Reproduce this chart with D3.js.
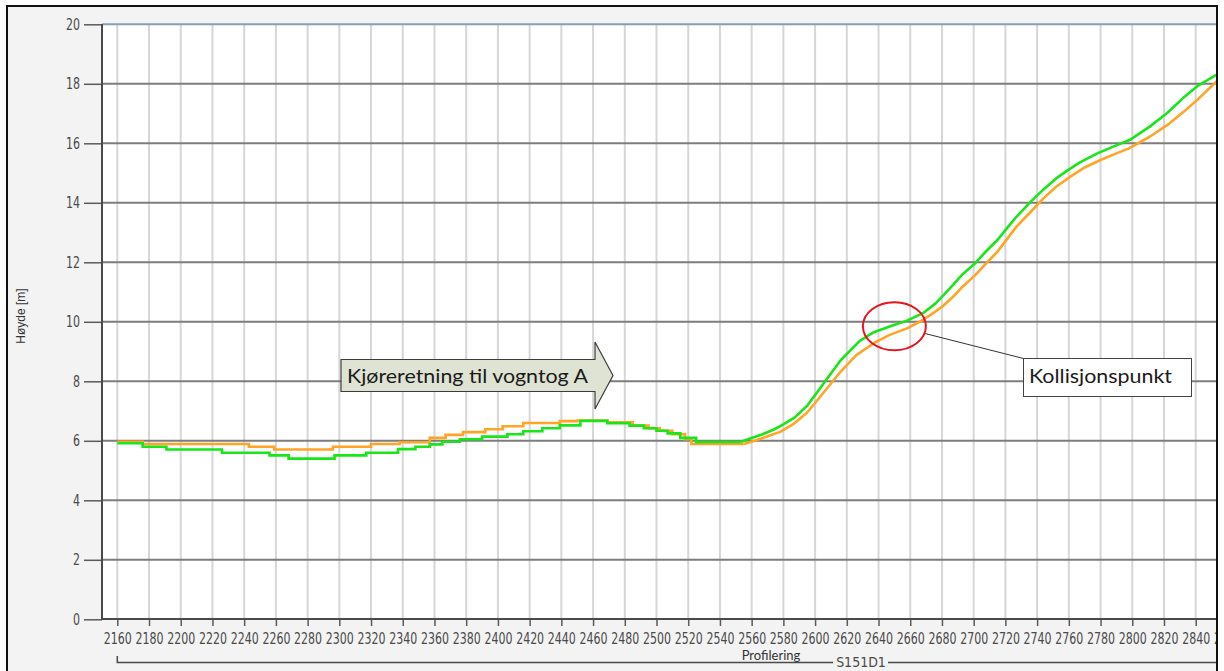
<!DOCTYPE html>
<html>
<head>
<meta charset="utf-8">
<script src="https://cdn.jsdelivr.net/npm/d3@7"></script>
<style>
  html, body { margin: 0; padding: 0; background: #fff; }
  svg { display: block; }
</style>
</head>
<body>
<svg id="chart" width="1224" height="671"></svg>
<script>
// ---- data ----
const xTicks = d3.range(2160, 2861, 20);
const yTicks = [0, 2, 4, 6, 8, 10, 12, 14, 16, 18, 20];

// stepped part (station, height)
const greenSteps = [
  [2160, 5.92], [2176, 5.80], [2191, 5.71], [2226, 5.60], [2256, 5.51], [2268, 5.40],
  [2297, 5.51], [2317, 5.60], [2337, 5.72], [2348, 5.80], [2357, 5.88], [2365, 5.97],
  [2376, 6.05], [2390, 6.14], [2406, 6.22], [2416, 6.32], [2428, 6.42], [2439, 6.52],
  [2452, 6.67], [2469, 6.59], [2483, 6.51], [2492, 6.42], [2500, 6.34], [2507, 6.25],
  [2515, 6.10], [2525, 5.96], [2553, 5.96]
];
const orangeSteps = [
  [2160, 5.97], [2176, 5.89], [2243, 5.80], [2259, 5.71], [2296, 5.80], [2320, 5.89],
  [2338, 5.95], [2357, 6.10], [2367, 6.20], [2378, 6.29], [2392, 6.39], [2403, 6.49],
  [2416, 6.60], [2439, 6.66], [2450, 6.68], [2469, 6.62], [2485, 6.51], [2495, 6.42],
  [2502, 6.34], [2510, 6.22], [2518, 6.05], [2522, 5.89], [2555, 5.89]
];
// climbing part
const greenClimb = [
  [2553, 5.96], [2559, 6.08], [2566, 6.20], [2574, 6.38], [2580, 6.55], [2587, 6.78],
  [2595, 7.18], [2605, 7.90], [2616, 8.70], [2628, 9.35], [2637, 9.65], [2647, 9.84],
  [2658, 10.04], [2668, 10.29], [2676, 10.62], [2681, 10.90], [2687, 11.24], [2693, 11.60],
  [2701, 11.97], [2708, 12.38], [2715, 12.75], [2721, 13.15], [2727, 13.53], [2736, 14.04],
  [2744, 14.45], [2752, 14.82], [2759, 15.08], [2767, 15.36], [2778, 15.66], [2788, 15.89],
  [2799, 16.13], [2811, 16.56], [2822, 17.02], [2832, 17.52], [2841, 17.92], [2853, 18.30],
  [2858, 18.45]
];
const orangeClimb = [
  [2555, 5.89], [2562, 6.00], [2570, 6.15], [2578, 6.30], [2586, 6.55], [2595, 6.95],
  [2605, 7.60], [2616, 8.32], [2626, 8.88], [2637, 9.28], [2647, 9.56], [2658, 9.78],
  [2668, 10.06], [2676, 10.35], [2681, 10.55], [2687, 10.84], [2693, 11.18], [2701, 11.57],
  [2708, 11.97], [2715, 12.36], [2721, 12.78], [2727, 13.20], [2736, 13.70], [2744, 14.15],
  [2752, 14.54], [2761, 14.88], [2769, 15.16], [2780, 15.44], [2790, 15.66], [2798, 15.83],
  [2811, 16.22], [2822, 16.61], [2832, 17.04], [2841, 17.46], [2853, 18.07], [2858, 18.22]
];

const collisionPoint = [2650, 9.85];

// ---- layout ----
const frame = {left: 7, top: 6, right: 1217, bottom: 680};
const plot = {left: 102, top: 24, right: 1216, bottom: 619};
const numFont = '"Liberation Sans Narrow", "DejaVu Sans Condensed", "Arial Narrow", sans-serif';
const textFont = 'Lato, "Open Sans", Calibri, sans-serif';

const svg = d3.select("#chart");

const x = d3.scaleLinear().domain([2160, 2840]).range([117.3, 1195.7]);
const y = d3.scaleLinear().domain([0, 20]).range([619.3, 24.3]);

const defs = svg.append("defs");
defs.append("clipPath").attr("id", "frameClip")
  .append("rect")
  .attr("x", frame.left).attr("y", frame.top)
  .attr("width", frame.right - frame.left).attr("height", frame.bottom - frame.top);
defs.append("clipPath").attr("id", "plotClip")
  .append("rect")
  .attr("x", plot.left).attr("y", plot.top - 2)
  .attr("width", plot.right - plot.left).attr("height", plot.bottom - plot.top + 2);

// outer panel
svg.append("rect")
  .attr("x", frame.left).attr("y", frame.top)
  .attr("width", frame.right - frame.left).attr("height", frame.bottom - frame.top)
  .attr("fill", "#f3f3f3");

const inner = svg.append("g").attr("clip-path", "url(#frameClip)");

inner.append("rect")
  .attr("x", plot.left).attr("y", plot.top)
  .attr("width", plot.right - plot.left).attr("height", plot.bottom - plot.top)
  .attr("fill", "#fff");

// vertical grid
inner.append("g").selectAll("line").data(xTicks).join("line")
  .attr("x1", d => x(d)).attr("x2", d => x(d))
  .attr("y1", plot.top).attr("y2", plot.bottom)
  .attr("stroke", "#d6d6d6").attr("stroke-width", 2);

// horizontal grid
inner.append("g").selectAll("line").data(yTicks.filter(d => d > 0 && d < 20)).join("line")
  .attr("x1", plot.left).attr("x2", plot.right + 10)
  .attr("y1", d => y(d)).attr("y2", d => y(d))
  .attr("stroke", "#7d7d7d").attr("stroke-width", 2);

// top edge
inner.append("line")
  .attr("x1", plot.left).attr("x2", plot.right + 10)
  .attr("y1", y(20)).attr("y2", y(20))
  .attr("stroke", "#8b9bb8").attr("stroke-width", 2);

// axes
const yAxis = inner.append("g")
  .attr("transform", `translate(${plot.left},0)`)
  .call(d3.axisLeft(y).tickValues(yTicks).tickSize(18).tickPadding(4).tickSizeOuter(0));
const xAxis = inner.append("g")
  .attr("transform", `translate(0,${plot.bottom})`)
  .call(d3.axisBottom(x).tickValues(xTicks).tickFormat(d3.format("d"))
    .tickSize(7).tickPadding(4).tickSizeOuter(0));

[yAxis, xAxis].forEach(a => {
  a.select(".domain").remove();
  a.selectAll("line").attr("stroke", "#5a5a5a").attr("stroke-width", 1.5);
  a.selectAll("text")
    .style("font-family", numFont)
    .style("font-size", "15px")
    .attr("fill", "#4a4a4a")
    .attr("textLength", function() { return this.textContent.length * 7; })
    .attr("lengthAdjust", "spacingAndGlyphs");
});
xAxis.selectAll("text").attr("dy", "0.9em");

// axis lines
inner.append("line")
  .attr("x1", plot.left).attr("x2", plot.left)
  .attr("y1", plot.top).attr("y2", plot.bottom + 1)
  .attr("stroke", "#4a4a4a").attr("stroke-width", 2);
inner.append("line")
  .attr("x1", plot.left).attr("x2", plot.right + 10)
  .attr("y1", plot.bottom).attr("y2", plot.bottom)
  .attr("stroke", "#4a4a4a").attr("stroke-width", 2);

// y title
inner.append("text")
  .attr("transform", `translate(25,316) rotate(-90)`)
  .attr("text-anchor", "middle")
  .style("font-family", '"Liberation Sans", Arial, sans-serif')
  .style("font-size", "12px")
  .attr("fill", "#333")
  .text("Høyde [m]");

// bottom bracket
inner.append("path")
  .attr("d", `M${x(2160)},656 V662.5 H833 M888,662.5 H${frame.right}`)
  .attr("fill", "none").attr("stroke", "#4a4a4a").attr("stroke-width", 1.5);
inner.append("text")
  .attr("x", 771).attr("y", 660)
  .attr("text-anchor", "middle")
  .style("font-family", textFont).style("font-size", "13px")
  .attr("fill", "#333")
  .text("Profilering");
inner.append("text")
  .attr("x", 861).attr("y", 667)
  .attr("text-anchor", "middle")
  .style("font-family", numFont).style("font-size", "14px")
  .attr("fill", "#4a4a4a")
  .text("S151D1");

// series
const lines = inner.append("g").attr("clip-path", "url(#plotClip)");
const stepLine = d3.line().x(d => x(d[0])).y(d => y(d[1])).curve(d3.curveStepAfter);
const smoothLine = d3.line().x(d => x(d[0])).y(d => y(d[1])).curve(d3.curveLinear);

[[orangeSteps, orangeClimb, "#ffa424"], [greenSteps, greenClimb, "#19e619"]].forEach(([steps, climb, col]) => {
  lines.append("path").datum(steps)
    .attr("d", stepLine)
    .attr("fill", "none").attr("stroke", col).attr("stroke-width", 2.6);
  lines.append("path").datum(climb)
    .attr("d", smoothLine)
    .attr("fill", "none").attr("stroke", col).attr("stroke-width", 2.6)
    .attr("stroke-linejoin", "round");
});

// direction arrow
const ax0 = 341, ax1 = 595, axTip = 613, ayTop = 359.5, ayBot = 391.5, ahTop = 342, ahBot = 409;
const ayMid = (ayTop + ayBot) / 2;
inner.append("path")
  .attr("d", `M${ax0},${ayTop} H${ax1} V${ahTop} L${axTip},${ayMid} L${ax1},${ahBot} V${ayBot} H${ax0} Z`)
  .attr("fill", "#dfe3d3").attr("stroke", "#3c3c3c").attr("stroke-width", 1.2);
inner.append("text")
  .attr("x", 347).attr("y", 383)
  .attr("textLength", 241).attr("lengthAdjust", "spacingAndGlyphs")
  .style("font-family", textFont).style("font-size", "20px")
  .attr("fill", "#1a1a1a")
  .text("Kjøreretning til vogntog A");

// collision callout
const cx = x(collisionPoint[0]), cy = y(collisionPoint[1]);
inner.append("line")
  .attr("x1", 925).attr("y1", 333.5)
  .attr("x2", 1023.5).attr("y2", 358.5)
  .attr("stroke", "#333").attr("stroke-width", 1);
inner.append("ellipse")
  .attr("cx", cx).attr("cy", cy)
  .attr("rx", 31.5).attr("ry", 24)
  .attr("fill", "none").attr("stroke", "#e8141c").attr("stroke-width", 2);
inner.append("rect")
  .attr("x", 1023.5).attr("y", 358.5)
  .attr("width", 168).attr("height", 38)
  .attr("fill", "#fff").attr("stroke", "#444").attr("stroke-width", 1);
inner.append("text")
  .attr("x", 1029).attr("y", 383)
  .attr("textLength", 143).attr("lengthAdjust", "spacingAndGlyphs")
  .style("font-family", textFont).style("font-size", "20px")
  .attr("fill", "#1a1a1a")
  .text("Kollisjonspunkt");

// outer border
svg.append("rect")
  .attr("x", frame.left).attr("y", frame.top)
  .attr("width", frame.right - frame.left).attr("height", frame.bottom - frame.top)
  .attr("fill", "none").attr("stroke", "#111").attr("stroke-width", 2);
</script>
</body>
</html>
